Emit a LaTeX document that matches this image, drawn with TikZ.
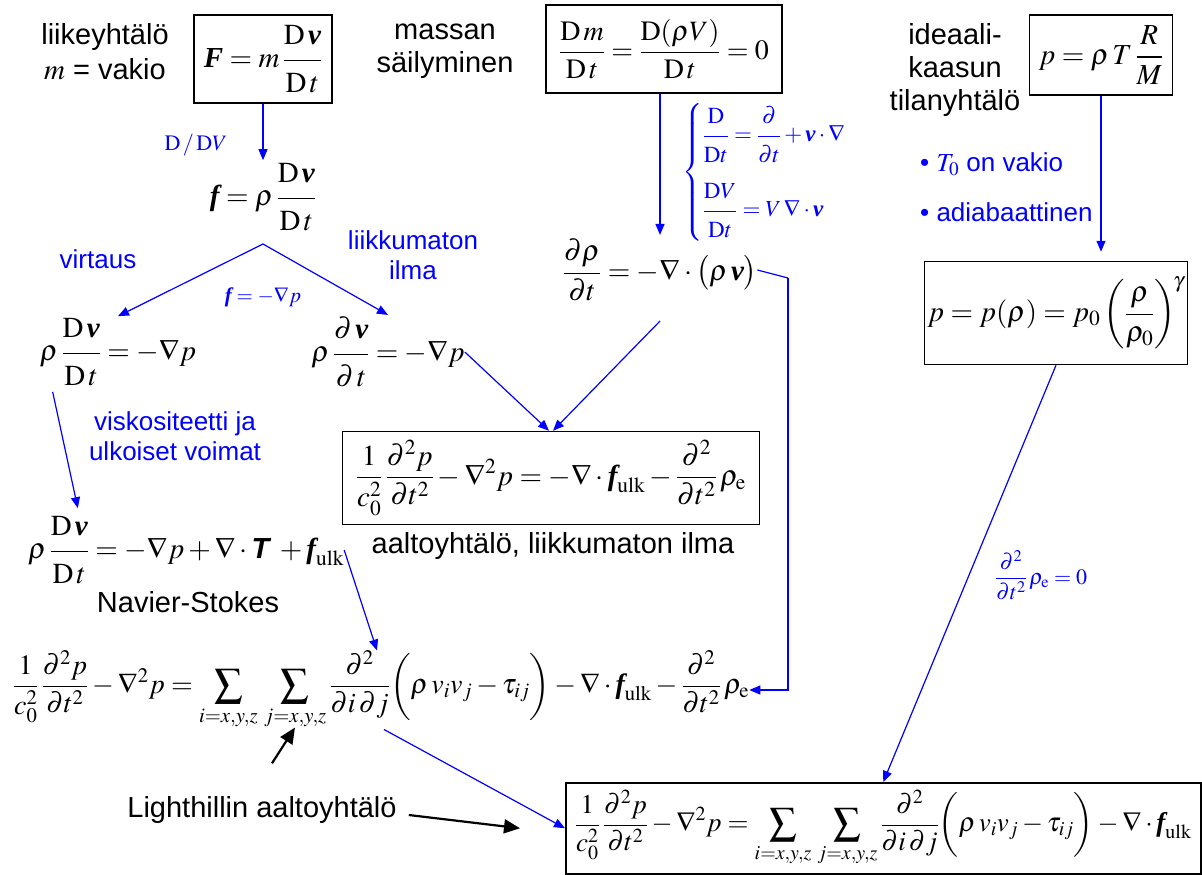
\documentclass[tikz,border=0pt]{standalone}
\usepackage{amsmath}
\usepackage{mathptmx}
\usepackage[no-math]{fontspec}
\setmainfont{Liberation Sans}
\newfontfamily\serifr{Liberation Serif}
\usetikzlibrary{arrows.meta}
\definecolor{pblue}{RGB}{0,0,255}
\newcommand\bv[1]{\text{\serifr\bfseries\itshape #1}}
\newcommand\bT{\text{\bfseries\itshape T}}
\newcommand\rD{\mathrm{D}}
\newcommand\ulk{_{\mathrm{ulk}}}
\newcommand\fr[2]{\frac{\raisebox{3pt}{$\displaystyle #1$}}{\raisebox{-5pt}{$\displaystyle #2$}}}
\begin{document}
\begin{tikzpicture}[x=1pt,y=-1pt,
  txt/.style={font=\fontsize{29}{33}\selectfont, inner sep=0pt, align=center},
  btxt/.style={font=\fontsize{26}{30}\selectfont, inner sep=0pt, align=center, text=pblue},
  eq/.style={font=\fontsize{29}{34}\selectfont, inner sep=0pt},
  beq/.style={font=\fontsize{21}{25}\selectfont, inner sep=0pt, text=pblue},
  box/.style={draw, line width=1.5pt, inner sep=0pt},
  barrow/.style={draw=pblue, line width=1.2pt, -{Triangle[length=11pt,width=9pt]}},
  bline/.style={draw=pblue, line width=1.2pt},
  karrow/.style={draw=black, line width=2.2pt, -{Triangle[length=16pt,width=14pt]}}]
\useasboundingbox (0,0) rectangle (1202,875);

% left column
\node[txt] (t1) at (105,52) {liikeyhtälö\\[2pt] $m$ = vakio};
\node[box, minimum width=138, minimum height=88] (b1) at (263,59)
  {\fontsize{29}{34}\selectfont$\displaystyle \bv{F}=m\,\fr{\rD\,\bv{v}}{\rD\,t}$};
\node[eq] (f) at (263,197) {$\displaystyle \bv{f}=\rho\,\fr{\rD\,\bv{v}}{\rD\,t}$};
\draw[barrow] (b1.south) -- ([yshift=3]b1.south |- f.north);
\node[beq, font=\fontsize{22}{26}\selectfont] (dv) at (196,145) {$\rD\,/\,\rD V$};

\coordinate (ap) at (263,244);
\node[btxt] (virt) at (98,259) {virtaus};
\node[btxt] (liik) at (413,255) {liikkumaton\\ ilma};
\node[beq] (fgrad) at (263,297) {$\bv{f}=-\nabla p$};

\node[eq] (l1) at (118,352) {$\displaystyle \rho\,\fr{\rD\,\bv{v}}{\rD\,t}=-\nabla p$};
\node[eq] (l2) at (388,352) {$\displaystyle \rho\,\fr{\partial\,\bv{v}}{\partial\,t}=-\nabla p$};
\draw[barrow] (ap) -- ([yshift=2]l1.north);
\draw[barrow] (ap) -- ([yshift=2]l2.north);

\node[btxt] (visk) at (175,436) {viskositeetti ja\\ ulkoiset voimat};

\node[eq] (ns) at (186,550) {$\displaystyle \rho\,\fr{\rD\,\bv{v}}{\rD\,t}=-\nabla p+\nabla\cdot\bT\;+\bv{f}\ulk$};
\node[txt] (nsl) at (188,602) {Navier-Stokes};
\draw[barrow] ([xshift=13,yshift=-6]l1.south west) -- ([xshift=50,yshift=8]ns.north west);

% wave box
\node[box, minimum width=417, minimum height=93] (wave) at (551,478)
  {\fontsize{29}{34}\selectfont$\displaystyle \frac{1}{c_0^2}\,\frac{\partial^2 p}{\partial t^2}-\nabla^2 p=-\nabla\cdot\bv{f}\ulk-\frac{\partial^2}{\partial t^2}\,\rho_{\mathrm{e}}$};
\node[txt] (wavel) at (553,546) {aaltoyhtälö, liikkumaton ilma};

% middle column
\node[txt] (t2) at (445,51) {massan\\ säilyminen};
\node[box, minimum width=236, minimum height=88] (b2) at (664,49)
  {\fontsize{28}{33}\selectfont$\displaystyle \frac{\rD\,m}{\rD\,t}=\frac{\rD(\rho V)}{\rD\,t}=0$};
\node[eq] (cont) at (660,270) {$\displaystyle \frac{\partial\rho}{\partial t}=-\nabla\cdot\bigl(\rho\,\bv{v}\bigr)$};
\draw[barrow] (b2.south -| cont.north) -- ([yshift=4]cont.north);
\node[beq, anchor=west, font=\fontsize{23}{27}\selectfont] (sys) at (682,172)
  {$\left\{\begin{aligned}&\fr{\rD}{\rD t}=\fr{\partial}{\partial t}+\bv{v}\cdot\nabla\\[16pt] &\fr{\rD V}{\rD t}=V\,\nabla\cdot\bv{v}\end{aligned}\right.$};

\draw[barrow] (l2.east) -- ([xshift=-2]wave.north);
\draw[barrow] ([yshift=-20]cont.south) -- ([xshift=2]wave.north);

% Lighthill
\node[eq, font=\fontsize{28}{33}\selectfont] (lh) at (381,690) {$\displaystyle \frac{1}{c_0^2}\,\frac{\partial^2 p}{\partial t^2}-\nabla^2 p=\sum_{i=x,y,z}\,\sum_{j=x,y,z}\frac{\partial^2}{\partial i\,\partial j}\biggl(\rho\,v_iv_j-\tau_{ij}\biggr)-\nabla\cdot\bv{f}\ulk-\frac{\partial^2}{\partial t^2}\,\rho_{\mathrm{e}}$};
\draw[barrow] (ns.east) -- ([xshift=-4]lh.north);
\coordinate (cc) at (788,278);
\draw[bline] (cont.east) -- (cc);
\draw[barrow] (cc) |- (lh.east);

\node[txt] (lhl) at (262,810) {Lighthillin aaltoyhtälö};

% bottom box
\node[box, minimum width=635, minimum height=91, anchor=north west] (b4) at (565,782)
  {\fontsize{27}{32}\selectfont$\displaystyle \frac{1}{c_0^2}\,\frac{\partial^2 p}{\partial t^2}-\nabla^2 p=\sum_{i=x,y,z}\,\sum_{j=x,y,z}\frac{\partial^2}{\partial i\,\partial j}\biggl(\rho\,v_iv_j-\tau_{ij}\biggr)-\nabla\cdot\bv{f}\ulk$};
\draw[barrow] ([xshift=3]lh.south) -- (b4.west);
\draw[karrow] ([xshift=10,yshift=33]lhl.north) -- ([xshift=-86,yshift=2]lh.south);
\draw[karrow] ([xshift=12,yshift=-5]lhl.east) -- ([xshift=-45]b4.west);

% right column
\node[txt] (t3) at (955,70) {ideaali-\\ kaasun\\ tilanyhtälö};
\node[box, minimum width=143, minimum height=80] (b3) at (1101,55)
  {\fontsize{29}{34}\selectfont$\displaystyle p=\rho\,T\,\frac{R}{M}$};
\node[btxt, anchor=west] (bul1) at (920,164) {\textbullet\ $T_0$ on vakio};
\node[btxt, anchor=west] (bul2) at (920,212) {\textbullet\ adiabaattinen};
\node[box, minimum width=263, minimum height=103] (b5) at (1056,313)
  {\fontsize{29}{34}\selectfont$\displaystyle p=p(\rho)=p_0\left(\frac{\rho}{\rho_0}\right)^{\!\gamma}$};
\draw[barrow] (b3.south) -- ([yshift=9]b3.south |- b5.north);
\draw[barrow] (b5.south) -- (b4.north);
\node[beq, anchor=west, font=\fontsize{22}{26}\selectfont] (rz) at (995,575) {$\displaystyle \frac{\partial^2}{\partial t^2}\,\rho_{\mathrm{e}}=0$};
\end{tikzpicture}
\end{document}
